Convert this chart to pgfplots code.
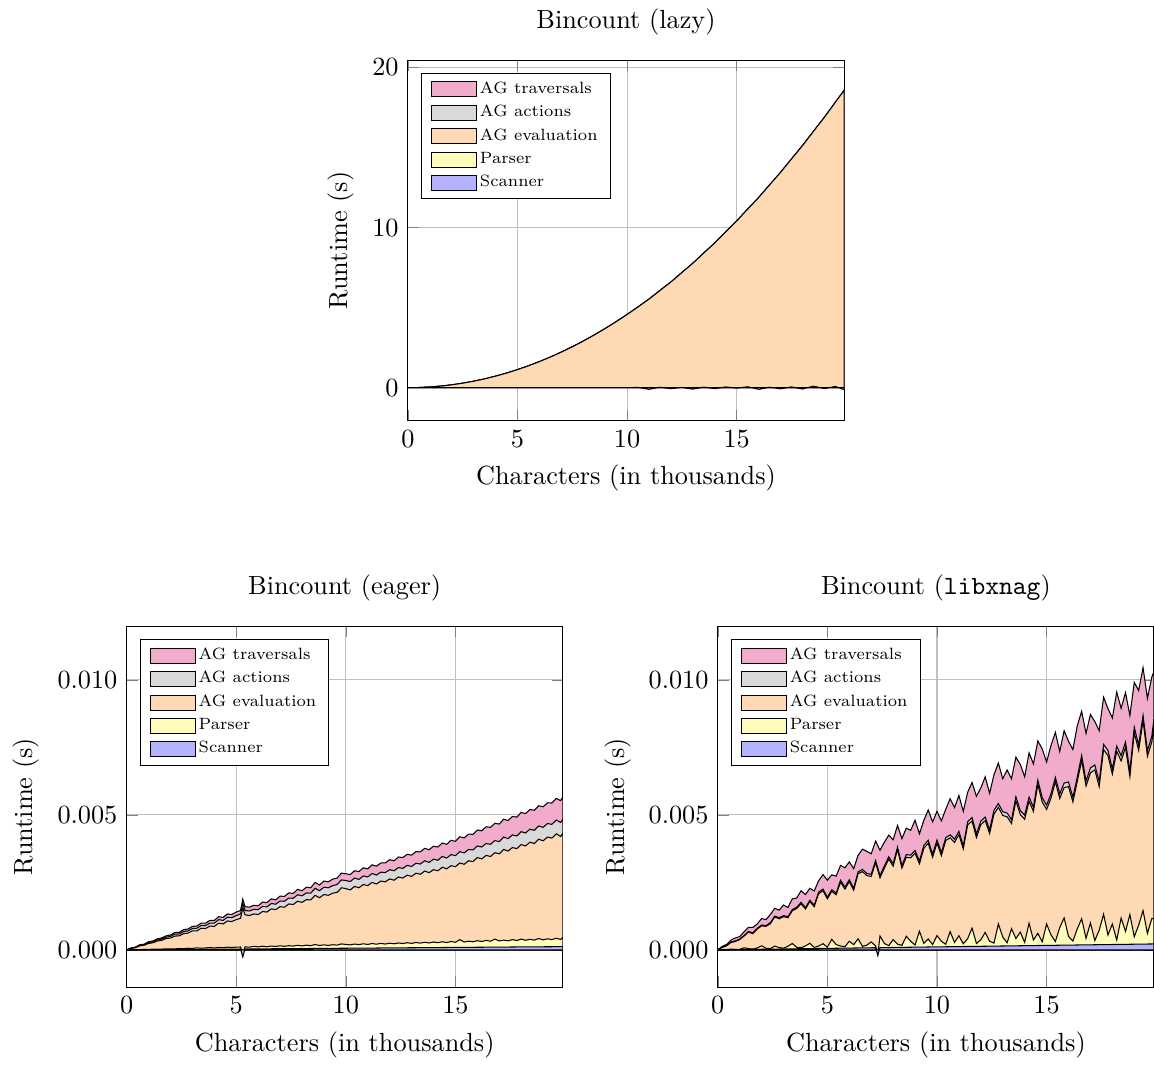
\documentclass[border=0pt]{standalone}
\usepackage{graphicx}
\usepackage{pgfplots}
\pgfplotsset{compat=1.18}
\usepackage{pgfplotstable}

\definecolor{cTrav}{RGB}{242,172,203}
\definecolor{cAct}{RGB}{217,217,217}
\definecolor{cEval}{RGB}{255,217,179}
\definecolor{cPars}{RGB}{255,251,186}
\definecolor{cScan}{RGB}{179,179,255}

% cumulative tops of the stacked layers
% lazy: seconds
\pgfplotstableread{
x T A E P S
0.0 0 0 0 0 0
0.5 0.011 0.011 0.011 0 0
1.0 0.045 0.045 0.045 0 0
1.5 0.100 0.100 0.100 0 0
2.0 0.179 0.179 0.179 0 0
2.5 0.280 0.280 0.280 0 0
3.0 0.404 0.404 0.404 0 0
3.5 0.550 0.550 0.550 0 0
4.0 0.720 0.720 0.720 0 0
4.5 0.912 0.912 0.912 0 0
5.0 1.128 1.128 1.128 0 0
5.5 1.366 1.366 1.366 0.01 0
6.0 1.628 1.628 1.628 0 0
6.5 1.913 1.913 1.913 0.01 0
7.0 2.222 2.222 2.222 0 0
7.5 2.554 2.554 2.554 0.01 0
8.0 2.909 2.909 2.909 0 0
8.5 3.289 3.289 3.289 0.01 0
9.0 3.692 3.692 3.692 0 0
9.5 4.119 4.119 4.119 0.01 0
10.0 4.570 4.570 4.570 0 0
10.5 5.045 5.045 5.045 0.02 0
11.0 5.530 5.530 5.530 -0.10 0
11.5 6.070 6.070 6.070 0.03 0
12.0 6.600 6.600 6.600 -0.06 0
12.5 7.190 7.190 7.190 0.02 0
13.0 7.770 7.770 7.770 -0.09 0
13.5 8.410 8.410 8.410 0.04 0
14.0 9.040 9.040 9.040 -0.06 0
14.5 9.730 9.730 9.730 0.05 0
15.0 10.410 10.410 10.410 -0.03 0
15.5 11.150 11.150 11.150 0.06 0
16.0 11.870 11.870 11.870 -0.10 0
16.5 12.660 12.660 12.660 0.03 0
17.0 13.440 13.440 13.440 -0.07 0
17.5 14.280 14.280 14.280 0.05 0
18.0 15.110 15.110 15.110 -0.08 0
18.5 16.000 16.000 16.000 0.10 0
19.0 16.880 16.880 16.880 -0.06 0
19.5 17.820 17.820 17.820 0.08 0
19.9 18.560 18.560 18.560 -0.12 0
}\lazytab

% eager: milliseconds
\pgfplotstableread{
x T A E P S
0.0 0 0 0 0 0
0.2 0.07 0.06 0.05 0.004 0.001
0.4 0.10 0.09 0.08 0.008 0.002
0.6 0.19 0.17 0.15 0.010 0.004
0.8 0.21 0.19 0.17 0.016 0.005
1.0 0.30 0.27 0.24 0.018 0.006
1.2 0.33 0.30 0.26 0.024 0.007
1.4 0.41 0.37 0.33 0.030 0.008
1.6 0.44 0.40 0.35 0.028 0.010
1.8 0.52 0.47 0.42 0.036 0.011
2.0 0.55 0.50 0.44 0.040 0.012
2.2 0.64 0.58 0.51 0.035 0.013
2.4 0.65 0.59 0.52 0.050 0.014
2.6 0.75 0.68 0.60 0.045 0.016
2.8 0.77 0.70 0.62 0.060 0.017
3.0 0.87 0.79 0.70 0.052 0.018
3.2 0.88 0.80 0.70 0.075 0.019
3.4 0.99 0.90 0.80 0.060 0.020
3.6 0.99 0.90 0.79 0.070 0.022
3.8 1.09 0.99 0.88 0.085 0.023
4.0 1.09 0.99 0.87 0.070 0.024
4.2 1.23 1.12 0.99 0.090 0.025
4.4 1.20 1.09 0.96 0.080 0.026
4.6 1.33 1.21 1.07 0.100 0.028
4.8 1.31 1.19 1.05 0.085 0.029
5.0 1.40 1.27 1.12 0.100 0.030
5.2 1.46 1.33 1.17 0.105 0.031
5.3 1.88 1.72 1.55 -0.200 -0.260
5.4 1.60 1.46 1.30 0.110 0.032
5.6 1.58 1.44 1.27 0.100 0.034
5.8 1.65 1.50 1.33 0.130 0.035
6.0 1.63 1.49 1.31 0.110 0.036
6.2 1.77 1.61 1.42 0.135 0.037
6.4 1.75 1.59 1.40 0.115 0.038
6.6 1.89 1.72 1.52 0.140 0.040
6.8 1.85 1.69 1.49 0.125 0.041
7.0 1.99 1.81 1.60 0.150 0.042
7.2 1.98 1.80 1.58 0.130 0.043
7.4 2.11 1.92 1.70 0.155 0.044
7.6 2.09 1.91 1.68 0.140 0.046
7.8 2.24 2.04 1.80 0.170 0.047
8.0 2.19 2.00 1.76 0.145 0.048
8.2 2.32 2.11 1.86 0.175 0.049
8.4 2.30 2.10 1.85 0.155 0.050
8.6 2.50 2.28 2.02 0.200 0.052
8.8 2.40 2.19 1.93 0.160 0.053
9.0 2.55 2.32 2.05 0.185 0.054
9.2 2.52 2.30 2.02 0.165 0.055
9.4 2.62 2.38 2.10 0.190 0.056
9.6 2.66 2.42 2.13 0.175 0.058
9.8 2.84 2.59 2.30 0.220 0.059
10.0 2.82 2.57 2.27 0.200 0.060
10.2 2.79 2.53 2.22 0.185 0.061
10.4 2.93 2.66 2.35 0.215 0.062
10.6 2.90 2.61 2.30 0.195 0.064
10.8 3.04 2.74 2.42 0.225 0.065
11.0 3.00 2.70 2.38 0.200 0.066
11.2 3.15 2.83 2.50 0.235 0.067
11.4 3.10 2.77 2.44 0.210 0.068
11.6 3.22 2.88 2.55 0.240 0.070
11.8 3.22 2.86 2.52 0.215 0.071
12.0 3.34 2.97 2.63 0.245 0.072
12.2 3.30 2.93 2.58 0.225 0.073
12.4 3.44 3.05 2.70 0.255 0.074
12.6 3.42 3.02 2.66 0.235 0.076
12.8 3.54 3.13 2.77 0.265 0.077
13.0 3.51 3.09 2.72 0.240 0.078
13.2 3.64 3.21 2.84 0.275 0.079
13.4 3.63 3.18 2.80 0.250 0.080
13.6 3.76 3.30 2.92 0.280 0.082
13.8 3.71 3.24 2.86 0.255 0.083
14.0 3.84 3.36 2.97 0.290 0.084
14.2 3.81 3.32 2.93 0.265 0.085
14.4 3.96 3.46 3.06 0.300 0.086
14.6 3.91 3.40 3.00 0.270 0.088
14.8 4.06 3.53 3.12 0.310 0.089
15.0 4.02 3.49 3.08 0.280 0.090
15.2 4.19 3.64 3.22 0.380 0.091
15.4 4.15 3.59 3.17 0.290 0.092
15.6 4.29 3.72 3.30 0.320 0.094
15.8 4.28 3.70 3.27 0.300 0.095
16.0 4.44 3.85 3.42 0.340 0.096
16.2 4.41 3.81 3.37 0.310 0.097
16.4 4.56 3.94 3.50 0.350 0.098
16.6 4.54 3.91 3.46 0.320 0.100
16.8 4.69 4.05 3.60 0.400 0.101
17.0 4.66 4.01 3.56 0.330 0.102
17.2 4.84 4.18 3.72 0.360 0.103
17.4 4.79 4.12 3.66 0.335 0.104
17.6 4.94 4.26 3.79 0.380 0.106
17.8 4.92 4.22 3.75 0.345 0.107
18.0 5.09 4.38 3.90 0.400 0.108
18.2 5.05 4.33 3.85 0.355 0.109
18.4 5.20 4.47 3.99 0.390 0.110
18.6 5.17 4.43 3.94 0.360 0.112
18.8 5.34 4.59 4.10 0.420 0.113
19.0 5.30 4.54 4.04 0.370 0.114
19.2 5.45 4.68 4.18 0.410 0.115
19.4 5.44 4.65 4.14 0.380 0.116
19.6 5.61 4.81 4.30 0.430 0.118
19.8 5.53 4.72 4.20 0.385 0.119
19.9 5.66 4.84 4.32 0.460 0.119
}\eagertab

% libxnag: milliseconds
\pgfplotstableread{
x T A E P S
0.0 0 0 0 0 0
0.2 0.13 0.10 0.08 0.006 0.002
0.4 0.20 0.16 0.15 0.008 0.004
0.6 0.36 0.29 0.27 0.029 0.007
0.8 0.44 0.33 0.31 0.020 0.009
1.0 0.49 0.40 0.38 0.020 0.011
1.2 0.67 0.53 0.51 0.077 0.013
1.4 0.83 0.68 0.66 0.043 0.015
1.6 0.83 0.63 0.60 0.032 0.018
1.8 0.96 0.80 0.77 0.066 0.020
2.0 1.16 0.92 0.89 0.150 0.022
2.2 1.12 0.90 0.87 0.056 0.024
2.4 1.31 1.01 0.97 0.048 0.026
2.6 1.54 1.25 1.22 0.138 0.029
2.8 1.47 1.19 1.15 0.087 0.031
3.0 1.66 1.27 1.23 0.060 0.033
3.2 1.57 1.23 1.19 0.134 0.035
3.4 1.89 1.49 1.45 0.236 0.037
3.6 1.92 1.58 1.53 0.092 0.040
3.8 2.19 1.76 1.71 0.076 0.042
4.0 2.05 1.56 1.51 0.146 0.044
4.2 2.28 1.84 1.79 0.246 0.046
4.4 2.18 1.65 1.60 0.088 0.048
4.6 2.56 2.14 2.08 0.143 0.051
4.8 2.79 2.25 2.19 0.228 0.053
5.0 2.58 1.95 1.89 0.100 0.055
5.2 2.78 2.23 2.17 0.390 0.057
5.4 2.73 2.10 2.04 0.197 0.059
5.6 3.13 2.58 2.51 0.143 0.062
5.8 3.04 2.32 2.25 0.116 0.064
6.0 3.26 2.60 2.53 0.318 0.066
6.2 3.01 2.28 2.21 0.192 0.068
6.4 3.50 2.89 2.82 0.410 0.070
6.6 3.73 2.98 2.90 0.132 0.073
6.8 3.65 2.83 2.75 0.173 0.075
7.0 3.56 2.80 2.72 0.294 0.077
7.2 4.03 3.31 3.23 0.144 0.079
7.3 3.86 3.03 2.95 -0.180 -0.200
7.4 3.69 2.75 2.67 0.514 0.081
7.6 3.99 3.11 3.03 0.236 0.084
7.8 4.25 3.45 3.36 0.156 0.086
8.0 4.08 3.19 3.10 0.380 0.088
8.2 4.61 3.81 3.72 0.209 0.090
8.4 4.12 3.12 3.03 0.168 0.092
8.6 4.51 3.53 3.43 0.503 0.095
8.8 4.43 3.51 3.41 0.321 0.097
9.0 4.80 3.68 3.58 0.180 0.099
9.2 4.30 3.29 3.19 0.690 0.101
9.4 4.80 3.87 3.76 0.240 0.103
9.6 5.18 4.06 3.95 0.403 0.106
9.8 4.74 3.54 3.43 0.196 0.108
10.0 5.13 4.07 3.96 0.530 0.110
10.2 4.78 3.60 3.49 0.316 0.112
10.4 5.21 4.16 4.05 0.208 0.114
10.6 5.60 4.26 4.15 0.678 0.117
10.8 5.27 4.10 3.98 0.275 0.119
11.0 5.72 4.39 4.27 0.523 0.121
11.2 5.13 3.86 3.74 0.224 0.123
11.4 5.84 4.75 4.63 0.416 0.125
11.6 6.20 4.90 4.77 0.806 0.128
11.8 5.69 4.29 4.16 0.236 0.130
12.0 6.00 4.77 4.64 0.372 0.132
12.2 6.41 4.92 4.79 0.647 0.134
12.4 5.80 4.44 4.31 0.316 0.136
12.6 6.49 5.17 5.03 0.252 0.139
12.8 6.92 5.42 5.28 0.960 0.141
13.0 6.34 5.12 4.98 0.475 0.143
13.2 6.66 5.07 4.93 0.264 0.145
13.4 6.34 4.82 4.68 0.784 0.147
13.6 7.14 5.67 5.52 0.422 0.150
13.8 6.87 5.16 5.01 0.656 0.152
14.0 6.41 4.99 4.84 0.280 0.154
14.2 7.30 5.66 5.51 0.987 0.156
14.4 6.89 5.28 5.13 0.367 0.158
14.6 7.74 6.29 6.13 0.613 0.161
14.8 7.45 5.64 5.48 0.296 0.163
15.0 6.96 5.36 5.20 0.960 0.165
15.2 7.57 5.78 5.62 0.555 0.167
15.4 8.06 6.39 6.23 0.308 0.169
15.6 7.35 5.78 5.61 0.827 0.172
15.8 8.12 6.18 6.01 1.185 0.174
16.0 7.73 6.22 6.05 0.496 0.176
16.2 7.42 5.65 5.48 0.324 0.178
16.4 8.30 6.41 6.24 0.779 0.180
16.6 8.84 7.20 7.02 1.154 0.183
16.8 8.02 6.25 6.07 0.428 0.185
17.0 8.72 6.74 6.56 0.995 0.187
17.2 8.46 6.85 6.67 0.344 0.189
17.4 8.12 6.23 6.05 0.731 0.191
17.6 9.36 7.61 7.42 1.320 0.194
17.8 8.94 7.39 7.20 0.552 0.196
18.0 8.59 6.70 6.51 0.954 0.198
18.2 9.55 7.55 7.36 0.364 0.200
18.4 8.95 7.19 7.00 1.178 0.202
18.6 9.53 7.70 7.50 0.679 0.205
18.8 8.68 6.62 6.42 1.307 0.207
19.0 9.91 8.25 8.05 0.485 0.209
19.2 9.61 7.59 7.39 0.912 0.211
19.4 10.46 8.69 8.49 1.455 0.213
19.6 9.32 7.37 7.17 0.608 0.216
19.8 10.10 7.91 7.70 1.158 0.218
19.9 10.32 8.56 8.35 1.164 0.219
}\xnagtab

\pgfplotsset{
  rtaxis/.style={
    scale only axis,
    width=166.1pt, height=137.4pt,
    xmin=0, xmax=19.9,
    xtick={0,5,10,15},
    grid=major,
    xlabel={Characters (in thousands)},
    ylabel={Runtime (s)},
    legend style={at={(0.03,0.965)}, anchor=north west,
      font=\scriptsize, cells={anchor=west},
      nodes={inner xsep=1.2pt, inner ysep=0.8pt},
      inner xsep=3.6pt, inner ysep=2.4pt, row sep=1.4pt},
  },
  msaxis/.style={
    ymin=-1.38, ymax=11.99,
    ytick={0,5,10},
    yticklabels={$0.000$,$0.005$,$0.010$},
  },
  layer/.style={fill=#1, draw=black, area legend},
}

\newcommand{\legtext}[1]{\scalebox{0.89}{#1}}

\newcommand{\layers}[1]{%
  \addplot[layer=cTrav] table[x=x,y=T]{#1} \closedcycle;
  \addlegendentry{\legtext{AG traversals}}
  \addplot[layer=cAct] table[x=x,y=A]{#1} \closedcycle;
  \addlegendentry{\legtext{AG actions}}
  \addplot[layer=cEval] table[x=x,y=E]{#1} \closedcycle;
  \addlegendentry{\legtext{AG evaluation}}
  \addplot[layer=cPars] table[x=x,y=P]{#1} \closedcycle;
  \addlegendentry{\legtext{Parser}}
  \addplot[layer=cScan] table[x=x,y=S]{#1} \closedcycle;
  \addlegendentry{\legtext{Scanner}}
}

\begin{document}
\begin{tikzpicture}
\begin{axis}[rtaxis, name=top, at={(107.1pt,215.6pt)}, anchor=south west,
  title={Bincount (lazy)}, ymin=-2.07, ymax=20.46, ytick={0,10,20}]
\layers{\lazytab}
\end{axis}

\begin{axis}[rtaxis, msaxis, name=bl, at={(0pt,0pt)}, anchor=south west,
  title={Bincount (eager)}]
\layers{\eagertab}
\end{axis}

\begin{axis}[rtaxis, msaxis, name=br, at={(225.1pt,0pt)}, anchor=south west,
  title={Bincount (\texttt{libxnag})}]
\layers{\xnagtab}
\coordinate (brright) at (rel axis cs:1,0);
\end{axis}

\pgfresetboundingbox
\path[use as bounding box] ([xshift=-1.7pt]bl.outer south west) rectangle (brright |- top.outer north);
\end{tikzpicture}
\end{document}
